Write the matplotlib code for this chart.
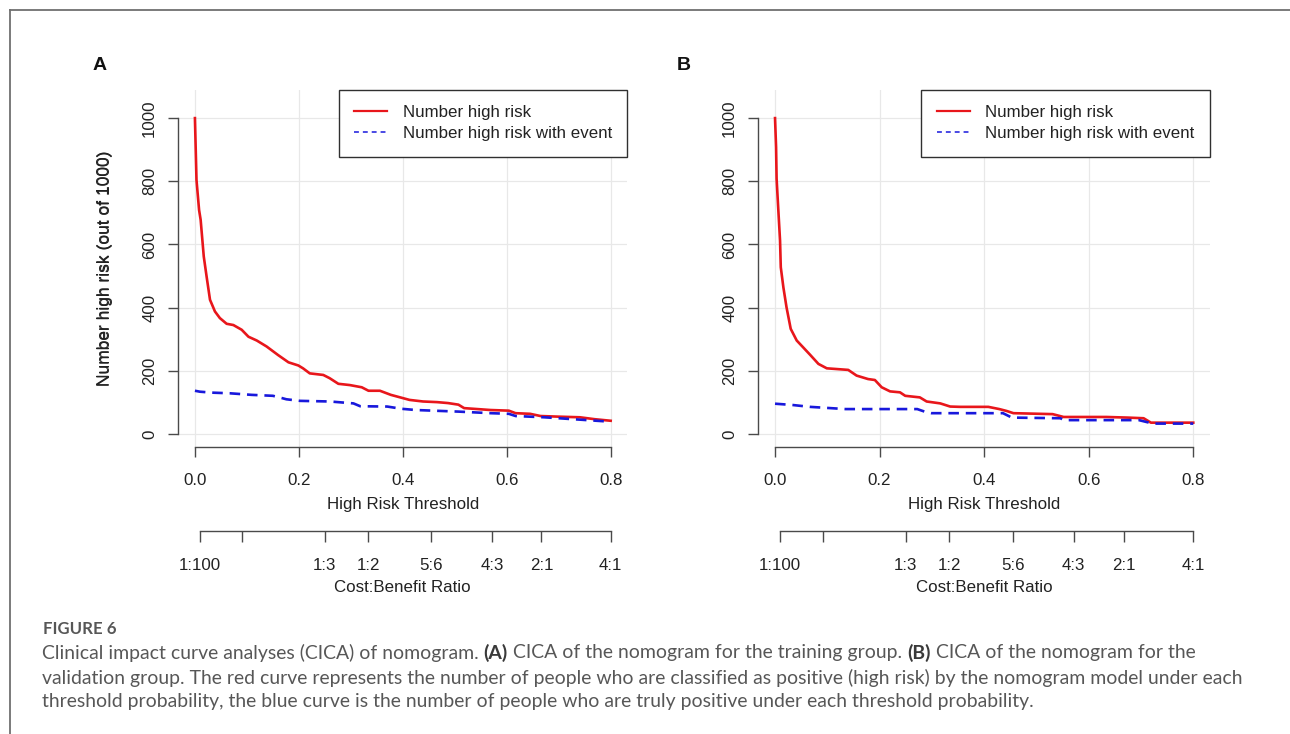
import matplotlib
matplotlib.use("Agg")
import matplotlib.pyplot as plt
from matplotlib.lines import Line2D

# ---------------- data ----------------
# Panel A (training group)
a_red_thr = [0, 0.003, 0.008, 0.011, 0.017, 0.0225, 0.029, 0.0385, 0.048, 0.061, 0.074, 0.090,
             0.103, 0.119, 0.138, 0.160, 0.180, 0.199, 0.208, 0.221, 0.247, 0.259, 0.276, 0.298,
             0.321, 0.334, 0.356, 0.377, 0.395, 0.413, 0.439, 0.466, 0.487, 0.507, 0.518, 0.535,
             0.569, 0.604, 0.617, 0.645, 0.665, 0.700, 0.741, 0.769, 0.800]
a_red_n = [1000, 804, 709, 678, 562, 498, 425, 388, 367, 349, 345, 330,
           308, 296, 277, 250, 227, 217, 208, 192, 187, 177, 159, 155,
           148, 137, 137, 124, 116, 108, 103, 101, 98, 93, 82, 80,
           76, 74, 66, 64, 57, 55, 53, 47, 42]
a_blue_thr = [0, 0.0096, 0.033, 0.067, 0.109, 0.150, 0.167, 0.176, 0.202, 0.260, 0.305,
              0.318, 0.370, 0.397, 0.425, 0.507, 0.569, 0.604, 0.617, 0.672, 0.755, 0.800]
a_blue_n = [137, 134, 131, 129, 124, 121, 114, 110, 105, 103, 97,
            88, 87, 80, 76, 71, 66, 64, 57, 53, 44, 39]

# Panel B (validation group)
b_red_thr = [0, 0.002, 0.003, 0.006, 0.0096, 0.011, 0.016, 0.022, 0.030, 0.0415, 0.054, 0.067,
             0.083, 0.099, 0.140, 0.156, 0.178, 0.191, 0.204, 0.220, 0.239, 0.249, 0.277, 0.290,
             0.316, 0.335, 0.354, 0.408, 0.429, 0.443, 0.456, 0.531, 0.552, 0.634, 0.675, 0.705,
             0.719, 0.800]
b_red_n = [1000, 908, 808, 718, 612, 528, 464, 401, 333, 296, 274, 251,
           222, 208, 203, 185, 174, 171, 148, 135, 132, 121, 116, 103,
           97, 87, 86, 86, 79, 73, 66, 63, 54, 54, 52, 50,
           36, 36]
b_blue_thr = [0, 0.033, 0.067, 0.135, 0.272, 0.286, 0.299, 0.436, 0.453, 0.546, 0.552,
              0.696, 0.723, 0.800]
b_blue_n = [96, 92, 86, 79, 79, 71, 66, 66, 52, 50, 44, 44, 33, 33]

x_ticks = [0.0, 0.2, 0.4, 0.6, 0.8]
x_ticklabels = ["0.0", "0.2", "0.4", "0.6", "0.8"]
y_ticks = [0, 200, 400, 600, 800, 1000]
y_ticklabels = ["0", "200", "400", "600", "800", "1000"]

cb_cost = [1, 1, 1, 1, 5, 4, 2, 4]
cb_benefit = [100, 10, 3, 2, 6, 3, 1, 1]
cb_labels = ["1:100", "", "1:3", "1:2", "5:6", "4:3", "2:1", "4:1"]

legend_labels = ["Number high risk", "Number high risk with event"]
panel_letters = ["A", "B"]

caption_title = "FIGURE 6"
caption_line1 = [("Clinical impact curve analyses (CICA) of nomogram. ", False), ("(A)", True),
                 (" CICA of the nomogram for the training group. ", False), ("(B)", True),
                 (" CICA of the nomogram for the", False)]
caption_line2 = ("validation group. The red curve represents the number of people who are classified "
                 "as positive (high risk) by the nomogram model under each")
caption_line3 = ("threshold probability, the blue curve is the number of people who are truly positive "
                 "under each threshold probability.")

# ---------------- style ----------------
W, H, DPI = 1290, 734, 100
RED = "#e8161b"
BLUE = "#1818dc"
TXT = "#222222"
AXC = "#4a4a4a"
GRID = "#e8e8e8"
FS = 12.2
RFONT = ["Liberation Sans", "DejaVu Sans"]
CAP_FONT = ["Lato", "Open Sans", "DejaVu Sans"]
CAP_COL = "#575757"

fig = plt.figure(figsize=(W / DPI, H / DPI), dpi=DPI)
fig.patch.set_facecolor("white")

PT = 72.0 / DPI  # points per pixel
TOP, BOT = 90.0, 447.3


def frac_y(px):
    return (BOT - px) / (BOT - TOP)


cb_thr = [c / (c + b) for c, b in zip(cb_cost, cb_benefit)]

panels = [
    (178.3, 627.3, a_red_thr, a_red_n, a_blue_thr, a_blue_n, 100),
    (758.3, 1210.0, b_red_thr, b_red_n, b_blue_thr, b_blue_n, 684),
]

for i, (lpx, rpx, rx, ry, bx, by, letter_x) in enumerate(panels):
    ax = fig.add_axes([lpx / W, 1 - BOT / H, (rpx - lpx) / W, (BOT - TOP) / H])
    ax.set_xlim(-0.032, 0.832)
    ax.set_ylim(-42, 1089)
    ax.set_facecolor("none")

    ax.plot(rx, ry, color=RED, lw=1.9, zorder=3, solid_joinstyle="round")
    ax.plot(bx, by, color=BLUE, lw=1.9, dashes=(4.0, 2.6), zorder=3)

    ax.set_xticks(x_ticks, x_ticklabels)
    ax.set_yticks(y_ticks, y_ticklabels)
    ax.grid(True, color=GRID, lw=0.9, zorder=0)
    ax.set_axisbelow(True)

    for s in ["top", "right"]:
        ax.spines[s].set_visible(False)
    ax.spines["left"].set_bounds(0, 1000)
    ax.spines["bottom"].set_bounds(0, 0.8)
    for s in ["left", "bottom"]:
        ax.spines[s].set_color(AXC)
        ax.spines[s].set_linewidth(1.0)

    ax.tick_params(axis="both", direction="out", length=7.2, width=1.0, color=AXC,
                   labelsize=FS, labelcolor=TXT)
    ax.tick_params(axis="x", pad=11)
    ax.tick_params(axis="y", pad=8, labelrotation=90)
    for lbl in ax.get_yticklabels() + ax.get_xticklabels():
        lbl.set_fontfamily(RFONT)
    for lbl in ax.get_yticklabels():
        lbl.set_va("center")

    ax.set_xlabel("High Risk Threshold", fontsize=FS, color=TXT, family=RFONT)
    ax.xaxis.set_label_coords(0.5, frac_y(505))
    ax.xaxis.label.set_va("center")
    ax.set_ylabel("Number high risk (out of 1000)", fontsize=FS + 0.3, color=TXT, family=RFONT)
    ax.yaxis.set_label_coords((105 - lpx) / (rpx - lpx), 0.5)
    ax.yaxis.label.set_va("center")

    # cost:benefit axis
    cb = ax.twiny()
    cb.set_xlim(ax.get_xlim())
    cb.xaxis.set_ticks_position("bottom")
    cb.xaxis.set_label_position("bottom")
    cb.spines["bottom"].set_position(("outward", (530.7 - BOT) * PT))
    for s in ["top", "left", "right"]:
        cb.spines[s].set_visible(False)
    cb.spines["bottom"].set_bounds(cb_thr[0], cb_thr[-1])
    cb.spines["bottom"].set_color(AXC)
    cb.spines["bottom"].set_linewidth(1.0)
    cb.set_xticks(cb_thr, cb_labels)
    cb.tick_params(axis="x", direction="out", length=7.9, width=1.0, color=AXC,
                   labelsize=FS, labelcolor=TXT, pad=12)
    for lbl in cb.get_xticklabels():
        lbl.set_fontfamily(RFONT)
    cb.set_xlabel("Cost:Benefit Ratio", fontsize=FS, color=TXT, family=RFONT)
    cb.xaxis.set_label_coords(0.5, frac_y(587.3))
    cb.xaxis.label.set_va("center")

    handles = [Line2D([], [], color=RED, lw=1.6),
               Line2D([], [], color=BLUE, lw=1.1, dashes=(3.2, 2.6))]
    leg = ax.legend(handles, legend_labels, loc="upper right", bbox_to_anchor=(1, 1),
                    borderaxespad=0, frameon=True, fancybox=False, framealpha=1,
                    edgecolor="#303030", prop={"family": RFONT, "size": FS},
                    handlelength=1.95, handletextpad=0.93, borderpad=0.9, labelspacing=0.36)
    leg.get_frame().set_linewidth(1.0)
    for t in leg.get_texts():
        t.set_color(TXT)

    fig.text(letter_x / W, 1 - 65 / H, panel_letters[i], fontsize=14, fontweight="bold",
             family=RFONT, ha="center", va="center", color="#111111")

# ---------------- page frame ----------------
fig.add_artist(Line2D([10 / W, 1], [1 - 10 / H, 1 - 10 / H], transform=fig.transFigure,
                      color="#707070", lw=1.3))
fig.add_artist(Line2D([10 / W, 10 / W], [1 - 10 / H, 0], transform=fig.transFigure,
                      color="#707070", lw=1.3))

# ---------------- caption ----------------
fig.canvas.draw()
rend = fig.canvas.get_renderer()


def advance(s, fs, weight="normal"):
    t = fig.text(0, 0, s + "|", fontsize=fs, family=CAP_FONT, fontweight=weight)
    w1 = t.get_window_extent(rend).width
    t.set_text("|")
    w2 = t.get_window_extent(rend).width
    t.remove()
    return w1 - w2


fs0 = 12.0
cfs = fs0 * (1240 - 42) / advance(caption_line2, fs0)

X0 = 42
fig.text(43 / W, 1 - 629 / H, caption_title, fontsize=cfs * 0.86, fontweight="bold",
         family=CAP_FONT, color=CAP_COL, ha="left", va="center")

y1 = 651
x = X0
for txt, bold in caption_line1:
    wgt = "bold" if bold else "normal"
    fig.text(x / W, 1 - y1 / H, txt, fontsize=cfs, fontweight=wgt, family=CAP_FONT,
             color=CAP_COL if not bold else "#3a3a3a", ha="left", va="center_baseline")
    x += advance(txt, cfs, wgt)

fig.text(X0 / W, 1 - 676 / H, caption_line2, fontsize=cfs, family=CAP_FONT, color=CAP_COL,
         ha="left", va="center_baseline")
fig.text(X0 / W, 1 - 700 / H, caption_line3, fontsize=cfs, family=CAP_FONT, color=CAP_COL,
         ha="left", va="center_baseline")

fig.savefig("out.png", dpi=DPI, facecolor="white")
